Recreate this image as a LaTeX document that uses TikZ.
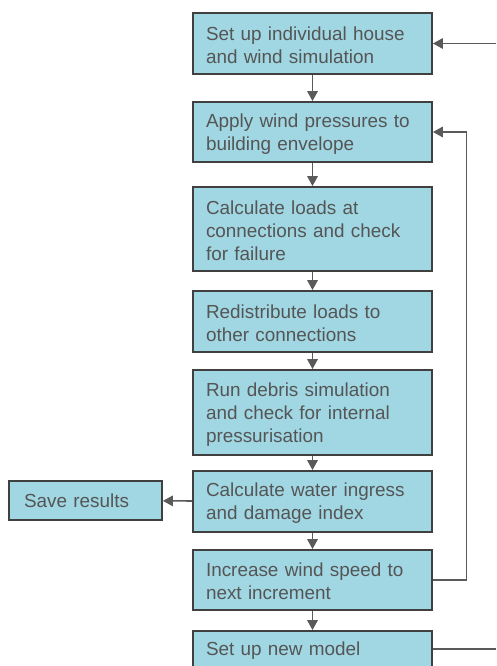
\documentclass[tikz,border=0pt]{standalone}
\usepackage{fontspec}
\setmainfont{Liberation Sans}
\usetikzlibrary{arrows.meta}
\definecolor{boxfill}{RGB}{160,215,227}
\definecolor{boxline}{RGB}{64,64,64}
\definecolor{txtgrey}{RGB}{85,85,85}
\definecolor{conn}{RGB}{90,90,90}
\tikzset{
  stepbox/.style={draw=boxline, line width=1.8pt, fill=boxfill, text=txtgrey,
    minimum width=239pt, text width=213pt, inner xsep=13pt, inner ysep=0pt, align=left,
    font=\fontsize{18.9}{23}\selectfont, execute at begin node={\rule{0pt}{17pt}}},
  savebox/.style={draw=boxline, line width=1.8pt, fill=boxfill, text=txtgrey,
    minimum width=153pt, text width=123pt, inner xsep=15pt, inner ysep=0pt, align=left,
    minimum height=39pt, font=\fontsize{18.9}{23}\selectfont},
  conn/.style={draw=conn, line width=1.6pt},
  arr/.style={conn, -{Triangle[length=10pt,width=10.5pt]}}
}
\begin{document}
\begin{tikzpicture}[x=1pt,y=-1pt]
\useasboundingbox (0,0) rectangle (496,666);
\clip (0,0) rectangle (496,666);
\node[stepbox, minimum height=61pt] (b1) at (312.5,43.5) {Set up individual house\\and wind simulation};
\node[stepbox, minimum height=60pt] (b2) at (312.5,132) {Apply wind pressures to\\building envelope};
\node[stepbox, minimum height=84pt] (b3) at (312.5,229) {Calculate loads at\\connections and check\\for failure};
\node[stepbox, minimum height=61pt] (b4) at (312.5,321.5) {Redistribute loads to\\other connections};
\node[stepbox, minimum height=85pt] (b5) at (312.5,412.5) {Run debris simulation\\and check for internal\\pressurisation};
\node[stepbox, minimum height=61pt] (b6) at (312.5,501.5) {Calculate water ingress\\and damage index};
\node[stepbox, minimum height=60pt] (b7) at (312.5,580) {Increase wind speed to\\next increment};
\node[stepbox, minimum height=36pt] (b8) at (312.5,649) {Set up new model};
\node[savebox] (save) at (85.5,500.5) {Save results};
\coordinate (inTop) at (496,43.5);
\coordinate (outBot) at (496,649);
\coordinate (loopX) at (466.5,580);
\draw[arr] (b1) -- (b2);
\draw[arr] (b2) -- (b3);
\draw[arr] (b3) -- (b4);
\draw[arr] (b4) -- (b5);
\draw[arr] (b5) -- (b6);
\draw[arr] (b6) -- (b7);
\draw[arr] (b7) -- (b8);
\draw[arr] (b6) -- (save);
\draw[arr] (inTop) -- (b1);
\draw[arr] (b7.east) -- (loopX) |- (b2.east);
\draw[conn] (b8.east) -- (outBot);
\end{tikzpicture}
\end{document}
